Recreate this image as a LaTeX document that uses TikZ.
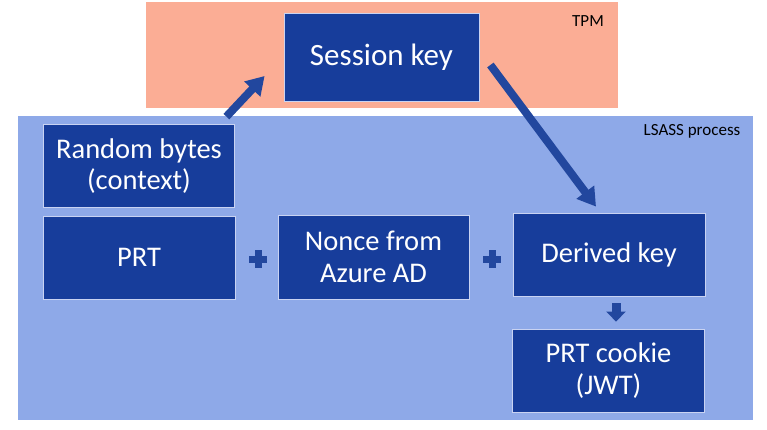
\documentclass[tikz,border=0pt]{standalone}
\usepackage{fontspec}
\setmainfont{Carlito}
\usepackage{tikz}
\usetikzlibrary{arrows.meta}
\usetikzlibrary{calc}
\usetikzlibrary{positioning}

\definecolor{tpmfill}{HTML}{FBAD95}
\definecolor{lsassfill}{HTML}{8EA9E8}
\definecolor{boxblue}{HTML}{173D9B}
\definecolor{arrowblue}{HTML}{22479E}
\definecolor{boxedge}{HTML}{C9D3F2}

\begin{document}
\begin{tikzpicture}[x=1pt, y=-1pt,
            keybox/.style={draw=boxedge, line width=0.8pt, fill=boxblue, text=white, align=center,
                minimum width=192pt, minimum height=83pt, inner sep=0pt, font=\fontsize{28.5}{31.5}\selectfont},
            zone/.style={inner sep=0pt, font=\fontsize{17}{19}\selectfont},
            fat/.style={arrowblue, line width=8pt, -{Triangle[length=18pt,width=21pt]}},
            small/.style={arrowblue, line width=9pt, -{Triangle[length=10pt,width=19pt]}},
            plus/.style={minimum size=18pt, inner sep=0pt,
                path picture={
                    \fill[arrowblue] ([yshift=-3.5pt]path picture bounding box.west) rectangle ([yshift=3.5pt]path picture bounding box.east);
                    \fill[arrowblue] ([xshift=-3.5pt]path picture bounding box.south) rectangle ([xshift=3.5pt]path picture bounding box.north);}}]
            \useasboundingbox (0,0) rectangle (767,430);
            \fill[tpmfill] (146,2) rectangle (618,108);
            \fill[lsassfill] (18,116) rectangle (753,420);
            \draw (588,21) node[zone]                                          (tpm) {TPM};
            \draw (692,131) node[zone]                                         (lsass) {LSASS process};

            \draw (381.5,57) node[keybox, minimum width=195pt, minimum height=88pt, font=\fontsize{31}{34}\selectfont] (sess) {Session key};
            \draw (139,166) node[keybox, minimum width=191pt]                  (rand) {Random bytes\\(context)};
            \draw (139,257.5) node[keybox]                                     (prt) {PRT};
            \draw (373.5,257) node[keybox, minimum width=191pt, minimum height=84pt] (nonce) {Nonce from\\Azure AD};
            \draw (609,254.5) node[keybox]                                     (derived) {Derived key};
            \draw (608.5,370.5) node[keybox]                                   (cookie) {PRT cookie\\(JWT)};

            \draw (258,259) node[plus]                                         (p1) {};
            \draw (492,259) node[plus]                                         (p2) {};

            \draw[fat] ([xshift=-8.5pt,yshift=7.5pt]rand.north east) -- ([xshift=-19pt,yshift=-19pt]sess.west);
            \draw[fat] ([xshift=11pt,yshift=-8pt]sess.east) -- ([xshift=-13pt,yshift=6pt]derived.north);
            \draw[small] ([xshift=7pt,yshift=-7pt]derived.south) -- ([xshift=7.5pt,yshift=7pt]cookie.north);

\end{tikzpicture}
\end{document}
